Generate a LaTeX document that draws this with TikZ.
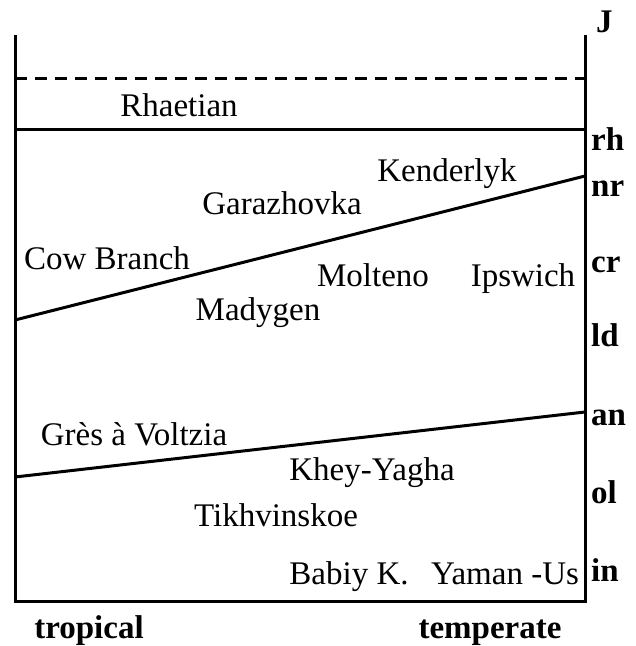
\documentclass[tikz,border=0pt]{standalone}
\usepackage{fontspec}
\setmainfont{Liberation Serif}
\begin{document}
\begin{tikzpicture}[x=1pt,y=-1pt,
  lbl/.style={anchor=base,inner sep=0pt,font=\fontsize{33}{36}\selectfont},
  stage/.style={anchor=base west,inner sep=0pt,font=\fontsize{33}{36}\selectfont\bfseries},
  frame/.style={line width=3pt},
  bound/.style={line width=3pt}]
\useasboundingbox (0,0) rectangle (636,646);
% frame corners
\coordinate (tl) at (15,35);
\coordinate (bl) at (15,601);
\coordinate (br) at (585,601);
\coordinate (tr) at (585,35);
\draw[frame,line join=miter] (tl) -- (bl) -- (br) -- (tr);
% boundaries
\coordinate (dl) at (15,78);
\coordinate (dr) at (585,78);
\draw[bound,dash pattern=on 12pt off 8pt] (dl) -- (dr);
\coordinate (rl) at (15,129);
\coordinate (rr) at (585,129);
\draw[bound] (rl) -- (rr);
\coordinate (s1l) at (15,320);
\coordinate (s1r) at (585,176);
\draw[bound] (s1l) -- (s1r);
\coordinate (s2l) at (15,477);
\coordinate (s2r) at (585,412);
\draw[bound] (s2l) -- (s2r);
% localities
\node[lbl] (rhaet) at (179,116) {Rhaetian};
\node[lbl] (kend) at (447,181) {Kenderlyk};
\node[lbl] (gara) at (282,214) {Garazhovka};
\node[lbl] (cow) at (107,269) {Cow Branch};
\node[lbl] (molt) at (373,286) {Molteno};
\node[lbl] (ipsw) at (523,286) {Ipswich};
\node[lbl] (mady) at (258,320) {Madygen};
\node[lbl] (gres) at (134,445) {Grès à Voltzia};
\node[lbl] (khey) at (372,480) {Khey-Yagha};
\node[lbl] (tikh) at (276,526) {Tikhvinskoe};
\node[lbl] (babiy) at (349,584) {Babiy K.};
\node[lbl] (yaman) at (505,584) {Yaman -Us};
% stages
\node[stage] (J) at (596,32) {J};
\node[stage] (rh) at (591,150) {rh};
\node[stage] (nr) at (591,196) {nr};
\node[stage] (cr) at (591,272) {cr};
\node[stage] (ld) at (591,346) {ld};
\node[stage] (an) at (591,425) {an};
\node[stage] (ol) at (591,503) {ol};
\node[stage] (in) at (591,581) {in};
% bottom
\node[lbl,font=\fontsize{33}{36}\selectfont\bfseries] (trop) at (89,638) {tropical};
\node[lbl,font=\fontsize{33}{36}\selectfont\bfseries] (temp) at (490,638) {temperate};
\end{tikzpicture}
\end{document}
